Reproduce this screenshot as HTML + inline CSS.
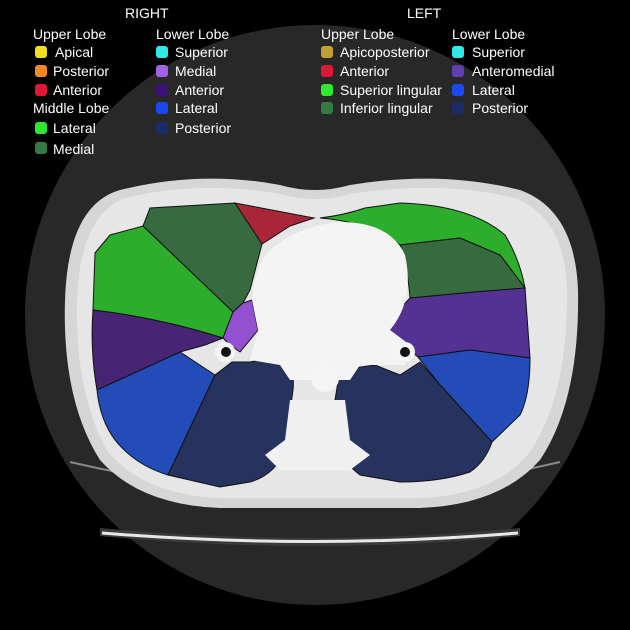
<!DOCTYPE html>
<html><head><style>
html,body{margin:0;padding:0;background:#000;}
svg{display:block;}
text{font-family:"Liberation Sans",sans-serif;fill:#fff;font-size:14px;}
</style></head><body>
<svg width="630" height="630" viewBox="0 0 630 630" xmlns="http://www.w3.org/2000/svg">
<rect width="630" height="630" fill="#000"/>
<circle cx="315" cy="315" r="290" fill="#282828"/>
<path d="M100 528 Q315 548 520 528 L520 536 Q315 556 100 536 Z" fill="#3a3a3a"/>
<path d="M102 533 Q315 550 518 533" stroke="#e8e8e8" stroke-width="3" fill="none"/>
<path d="M70 462 Q315 520 560 462" stroke="#888" stroke-width="2" fill="none"/>
<path d="M120 190 Q200 170 280 185 Q315 195 350 185 Q440 170 520 190 Q575 210 578 290 Q580 400 540 460 Q500 505 420 508 L220 508 Q140 505 100 460 Q62 400 65 300 Q68 205 120 190 Z" fill="#d6d6d6"/>
<path d="M125 198 Q200 180 280 194 Q315 204 350 194 Q440 180 515 198 Q565 218 567 290 Q568 395 530 452 Q495 495 420 498 L220 498 Q145 495 108 452 Q75 395 77 300 Q80 215 125 198 Z" fill="#e6e6e6"/>
<g stroke="#111" stroke-width="1">
<path d="M143 226 L150 208 L235 203 L262 244 L250 290 L243 303 L233 312 Z" fill="#386a40"/>
<path d="M93 310 L95 253 L110 235 L143 226 L233 312 L223 338 Q160 318 93 310 Z" fill="#2cae2c"/>
<path d="M235 203 L314 218 L290 226 L262 244 Z" fill="#a82638"/>
<path d="M223 338 L233 312 L243 303 L252 300 L258 330 L240 352 L230 345 Z" fill="#9350d0"/>
<path d="M93 310 Q160 318 223 338 L205 345 L180 352 L97 390 Q90 350 93 310 Z" fill="#4a2474"/>
<path d="M97 390 L180 352 L215 375 L168 475 Q135 465 115 440 Q100 420 97 390 Z" fill="#244cb8"/>
<path d="M215 375 L232 362 L250 362 L285 355 Q295 370 293 390 L285 450 Q275 475 250 482 L220 487 L168 475 Z" fill="#26335e"/>
<path d="M320 218 Q345 215 365 208 L400 203 Q470 205 505 235 Q520 260 525 288 L500 255 L460 238 L400 245 Q370 222 320 218 Z" fill="#2cae2c"/>
<path d="M400 245 L460 238 L500 255 L525 288 L475 292 L410 298 Q408 270 400 245 Z" fill="#386a40"/>
<path d="M410 298 L475 292 L525 288 L530 358 L470 350 L418 357 L400 342 L365 340 L385 325 Z" fill="#533294"/>
<path d="M418 357 L470 350 L530 358 Q530 395 520 415 L492 442 L440 385 Z" fill="#244cb8"/>
<path d="M340 370 L375 365 L400 375 L420 362 L440 385 L492 442 Q485 462 470 472 Q440 482 400 482 L360 475 Q340 460 338 440 L335 400 Z" fill="#26335e"/>
</g>
<path d="M270 250 Q300 225 340 222 Q390 222 405 255 Q415 300 390 330 L410 345 L405 365 L360 365 L350 380 L290 380 L280 365 L250 360 L258 330 L252 300 Q255 265 270 250 Z" fill="#f4f4f4"/>
<circle cx="325" cy="378" r="14" fill="#f5f5f5"/>
<path d="M290 400 L345 400 L350 440 L370 455 L350 470 L280 470 L265 455 L285 440 Z" fill="#f0f0f0"/>
<circle cx="225" cy="352" r="10" fill="#f5f5f5"/><circle cx="226" cy="352" r="5" fill="#111"/>
<circle cx="405" cy="352" r="10" fill="#f5f5f5"/><circle cx="405" cy="352" r="5" fill="#111"/>
<text x="125" y="18">RIGHT</text>
<text x="407" y="18">LEFT</text>
<text x="33" y="39">Upper Lobe</text>
<text x="156" y="39">Lower Lobe</text>
<text x="321" y="39">Upper Lobe</text>
<text x="452" y="39">Lower Lobe</text>
<rect x="35" y="46" width="12" height="12" rx="3" fill="#f0e020"/><text x="55" y="57">Apical</text>
<rect x="35" y="65" width="12" height="12" rx="3" fill="#f08a20"/><text x="53" y="76">Posterior</text>
<rect x="35" y="84" width="12" height="12" rx="3" fill="#e01838"/><text x="53" y="95">Anterior</text>
<text x="33" y="113">Middle Lobe</text>
<rect x="35" y="122" width="12" height="12" rx="3" fill="#30e830"/><text x="53" y="133">Lateral</text>
<rect x="35" y="142" width="12" height="12" rx="3" fill="#357a45"/><text x="53" y="154">Medial</text>
<rect x="156" y="46" width="12" height="12" rx="3" fill="#30e8e8"/><text x="175" y="57">Superior</text>
<rect x="156" y="65" width="12" height="12" rx="3" fill="#a560e8"/><text x="175" y="76">Medial</text>
<rect x="156" y="84" width="12" height="12" rx="3" fill="#3c1478"/><text x="175" y="95">Anterior</text>
<rect x="156" y="102" width="12" height="12" rx="3" fill="#1c48f0"/><text x="175" y="113">Lateral</text>
<rect x="156" y="122" width="12" height="12" rx="3" fill="#1c2c68"/><text x="175" y="133">Posterior</text>
<rect x="321" y="46" width="12" height="12" rx="3" fill="#c0a030"/><text x="340" y="57">Apicoposterior</text>
<rect x="321" y="65" width="12" height="12" rx="3" fill="#e01838"/><text x="340" y="76">Anterior</text>
<rect x="321" y="84" width="12" height="12" rx="3" fill="#30e830"/><text x="340" y="95">Superior lingular</text>
<rect x="321" y="102" width="12" height="12" rx="3" fill="#357a45"/><text x="340" y="113">Inferior lingular</text>
<rect x="452" y="46" width="12" height="12" rx="3" fill="#30e8e8"/><text x="472" y="57">Superior</text>
<rect x="452" y="65" width="12" height="12" rx="3" fill="#6040b0"/><text x="472" y="76">Anteromedial</text>
<rect x="452" y="84" width="12" height="12" rx="3" fill="#1c48f0"/><text x="472" y="95">Lateral</text>
<rect x="452" y="102" width="12" height="12" rx="3" fill="#1c2c68"/><text x="472" y="113">Posterior</text>
</svg>
</body></html>
